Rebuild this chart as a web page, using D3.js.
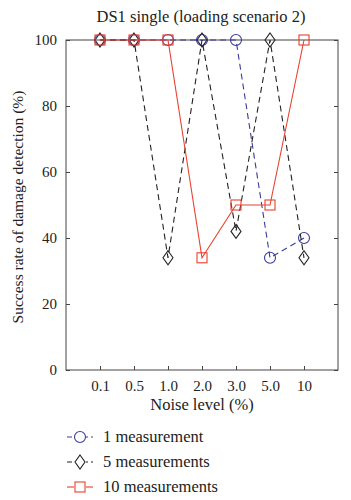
<!DOCTYPE html>
<html>
<head>
<meta charset="utf-8">
<script src="https://cdn.jsdelivr.net/npm/d3@7/dist/d3.min.js"></script>
<style>
body { margin: 0; background: #fff; }
text { font-family: "Liberation Serif", "DejaVu Serif", serif; fill: #222; }
</style>
</head>
<body>
<div id="chart"></div>
<script>
// categories and series
var noiseLevels = ["0.1", "0.5", "1.0", "2.0", "3.0", "5.0", "10"];
var oneMeas = [100, 100, 100, 100, 100, 34, 40];
var fiveMeas = [100, 100, 34, 100, 42, 100, 34];
var tenMeas = [100, 100, 100, 34, 50, 50, 100];
var yTicks = [0, 20, 40, 60, 80, 100];

var w = 351, h = 500;
var plotL = 66, plotR = 338, plotT = 40, plotB = 370;

var svg = d3.select("#chart").append("svg")
	.attr("width", w)
	.attr("height", h);

// x is index based, categories at 1..7, frame 0..8
var xScale = d3.scaleLinear().domain([0, 8]).range([plotL, plotR]);
var yScale = d3.scaleLinear().domain([0, 100]).range([plotB, plotT]);

var frameColor = "#444";

// frame
svg.append("rect")
	.attr("x", plotL).attr("y", plotT)
	.attr("width", plotR - plotL).attr("height", plotB - plotT)
	.attr("fill", "none")
	.attr("stroke", frameColor)
	.attr("stroke-width", 1);

// left axis
var yAxis = d3.axisLeft(yScale).tickValues(yTicks).tickSize(-4).tickPadding(9);
var gy = svg.append("g")
	.attr("transform", "translate(" + plotL + ",0)")
	.call(yAxis);
gy.select(".domain").remove();
gy.selectAll("line").attr("stroke", frameColor);
gy.selectAll("text").style("font-size", "15px").attr("fill", "#222");

// right ticks
var gyr = svg.append("g")
	.attr("transform", "translate(" + plotR + ",0)")
	.call(d3.axisRight(yScale).tickValues(yTicks).tickSize(-4).tickFormat(""));
gyr.select(".domain").remove();
gyr.selectAll("line").attr("stroke", frameColor);

// bottom axis
var xAxis = d3.axisBottom(xScale)
	.tickValues(d3.range(1, 8))
	.tickFormat(function(d) { return noiseLevels[d - 1]; })
	.tickSize(-4).tickPadding(10);
var gx = svg.append("g")
	.attr("transform", "translate(0," + plotB + ")")
	.call(xAxis);
gx.select(".domain").remove();
gx.selectAll("line").attr("stroke", frameColor);
gx.selectAll("text").style("font-size", "15px").attr("fill", "#222");

// title
svg.append("text")
	.attr("x", (plotL + plotR) / 2 - 1)
	.attr("y", 22)
	.attr("text-anchor", "middle")
	.style("font-size", "16.5px")
	.text("DS1 single (loading scenario 2)");

// axis labels
svg.append("text")
	.attr("x", (plotL + plotR) / 2)
	.attr("y", 410)
	.attr("text-anchor", "middle")
	.style("font-size", "16.5px")
	.text("Noise level (%)");

svg.append("text")
	.attr("transform", "translate(23,207) rotate(-90)")
	.attr("text-anchor", "middle")
	.style("font-size", "15.5px")
	.text("Success rate of damage detection (%)");

var series = [
	{ name: "1 measurement", values: oneMeas, color: "#3b3b9e", dash: "6,4", marker: "circle" },
	{ name: "5 measurements", values: fiveMeas, color: "#222", dash: "6,4", marker: "diamond" },
	{ name: "10 measurements", values: tenMeas, color: "#e8412f", dash: null, marker: "square" }
];

var line = d3.line()
	.x(function(d, i) { return xScale(i + 1); })
	.y(function(d) { return yScale(d); });

function drawMarker(g, type, color) {
	if (type == "circle") {
		g.append("circle").attr("r", 5.5)
			.attr("fill", "none").attr("stroke", color).attr("stroke-width", 1.1);
	} else if (type == "diamond") {
		g.append("path").attr("d", "M0,-7L5,0L0,7L-5,0Z")
			.attr("fill", "none").attr("stroke", color).attr("stroke-width", 1.1);
	} else {
		g.append("rect").attr("x", -5).attr("y", -5).attr("width", 10).attr("height", 10)
			.attr("fill", "none").attr("stroke", color).attr("stroke-width", 1.1);
	}
}

series.forEach(function(s) {
	svg.append("path")
		.datum(s.values)
		.attr("d", line)
		.attr("fill", "none")
		.attr("stroke", s.color)
		.attr("stroke-width", 1.1)
		.attr("stroke-dasharray", s.dash);

	svg.selectAll(null)
		.data(s.values)
		.enter()
		.append("g")
		.attr("transform", function(d, i) {
			return "translate(" + xScale(i + 1) + "," + yScale(d) + ")";
		})
		.each(function() { drawMarker(d3.select(this), s.marker, s.color); });
});

// legend
series.forEach(function(s, i) {
	var ly = 437 + i * 25;
	svg.append("line")
		.attr("x1", 67).attr("x2", 93)
		.attr("y1", ly).attr("y2", ly)
		.attr("stroke", s.color)
		.attr("stroke-width", 1.1)
		.attr("stroke-dasharray", s.dash ? "5,3" : null);
	var g = svg.append("g").attr("transform", "translate(80," + ly + ")");
	g.append("rect").attr("x", -6).attr("y", -8).attr("width", 12).attr("height", 16).attr("fill", "#fff");
	drawMarker(g, s.marker, s.color);
	svg.append("text")
		.attr("x", 103)
		.attr("y", ly + 5)
		.style("font-size", "16.5px")
		.text(s.name);
});
</script>
</body>
</html>
